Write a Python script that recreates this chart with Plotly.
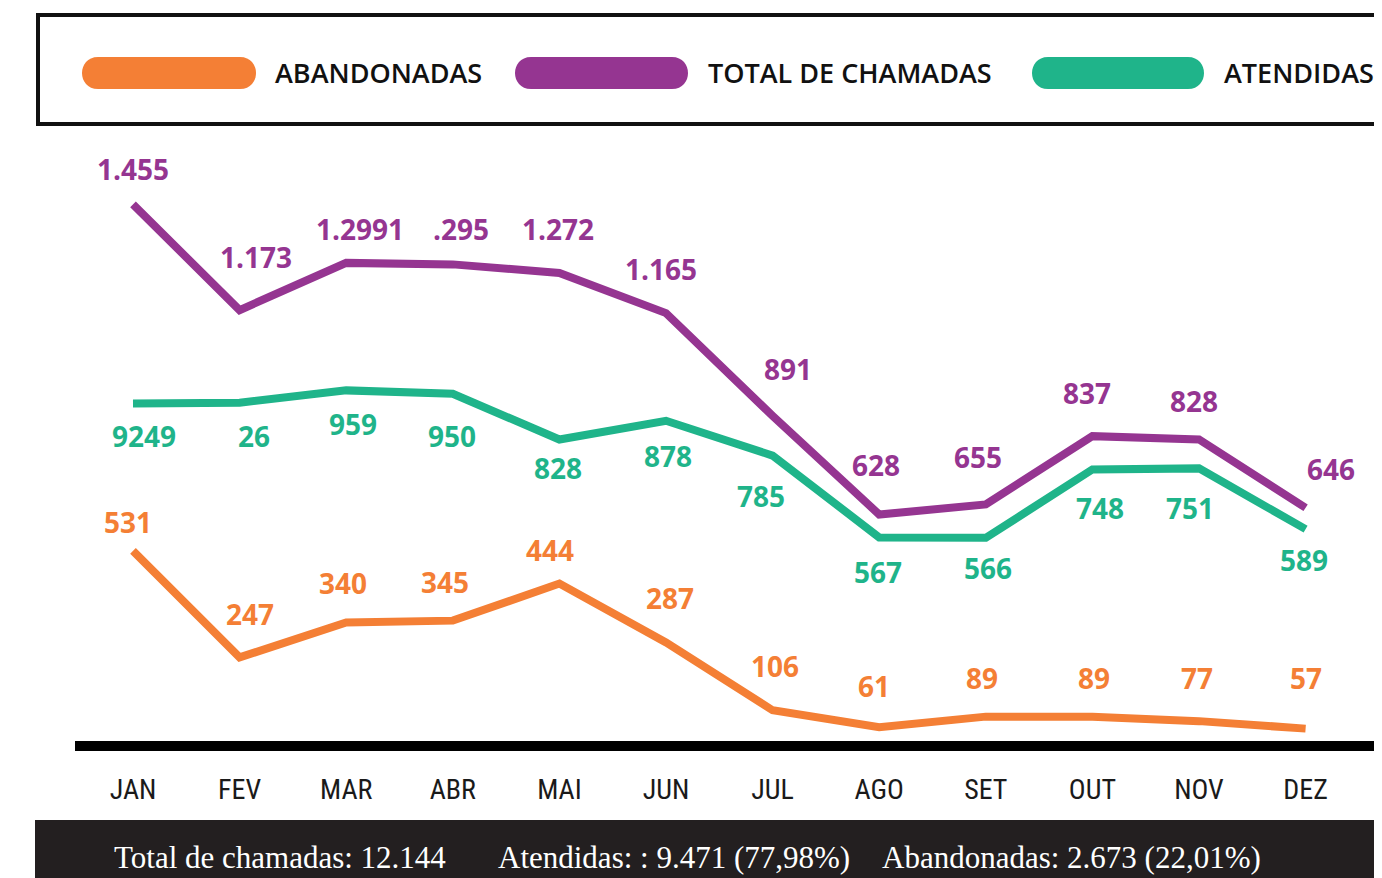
import plotly.graph_objects as go

# page body has an 8px default margin: coordinates below are window pixels
OFF = 8
W, H = 1382, 878 - OFF

# ---------------- data ----------------
months = ["JAN", "FEV", "MAR", "ABR", "MAI", "JUN", "JUL", "AGO", "SET", "OUT", "NOV", "DEZ"]
total = [1455, 1173, 1299, 1295, 1272, 1165, 891, 628, 655, 837, 828, 646]
atendidas = [924, 926, 959, 950, 828, 878, 785, 567, 566, 748, 751, 589]
abandonadas = [531, 247, 340, 345, 444, 287, 106, 61, 89, 89, 77, 57]

# value labels exactly as printed in the original
total_labels = ["1.455", "1.173", "1.2991", ".295", "1.272", "1.165", "891", "628", "655", "837", "828", "646"]
atend_labels = ["9249", "26", "959", "950", "828", "878", "785", "567", "566", "748", "751", "589"]
aband_labels = [str(v) for v in abandonadas]

summary_texts = ["Total de chamadas: 12.144", "Atendidas: : 9.471 (77,98%)", "Abandonadas: 2.673 (22,01%)"]
legend_names = ["ABANDONADAS", "TOTAL DE CHAMADAS", "ATENDIDAS"]

# ---------------- style ----------------
ORANGE = "#F47F35"
PURPLE = "#953591"
GREEN = "#1FB48A"
DARK = "#231F20"

# label offsets in pixels (dx right, dy up)
total_dx = [0, 16, 14, 8, -1, -5, 15, -3, -8, -5, -5, 25]
total_dy = [35, 53, 34, 35, 44, 44, 47, 50, 47, 43, 39, 39]
atend_dx = [11, 14, 7, -1, -1, 2, -12, -1, 2, 8, -9, -2]
atend_dy = [-32, -33, -34, -42, -28, -35, -40, -35, -30, -38, -40, -31]
aband_dx = [-5, 10, -3, -8, -9, 4, 2, -5, -4, 2, -2, 0]
aband_dy = [29, 43, 40, 39, 34, 44, 44, 41, 39, 39, 43, 51]

LABEL_FONT = "Open Sans, DejaVu Sans, sans-serif"
NARROW_FONT = "Liberation Sans Narrow, Arial Narrow, Roboto Condensed, Roboto, sans-serif"
SERIF_FONT = "Liberation Serif, DejaVu Serif, serif"


def px(x):
    return (x - OFF) / W


def py(y):
    return 1 - (y - OFF) / H


xs = list(range(len(months)))

# x axis: month i sits at window pixel 133 + 106.6*i
X_LEFT, X_RIGHT = 75, OFF + W
x_range = [(X_LEFT - 133) / 106.6, (X_RIGHT - 133) / 106.6]

fig = go.Figure()
for vals, color in [(abandonadas, ORANGE), (atendidas, GREEN), (total, PURPLE)]:
    fig.add_trace(go.Scatter(
        x=xs, y=vals, mode="lines",
        line=dict(color=color, width=8),
        showlegend=False, hoverinfo="skip", cliponaxis=False,
    ))

annotations = []
for vals, labels, dxs, dys, color in [
    (total, total_labels, total_dx, total_dy, PURPLE),
    (atendidas, atend_labels, atend_dx, atend_dy, GREEN),
    (abandonadas, aband_labels, aband_dx, aband_dy, ORANGE),
]:
    for i, (v, t) in enumerate(zip(vals, labels)):
        annotations.append(dict(
            x=xs[i], y=v, xref="x", yref="y", text=t, showarrow=False,
            xshift=dxs[i], yshift=dys[i],
            font=dict(family=LABEL_FONT, size=28, color=color, weight=700),
            xanchor="center", yanchor="middle",
        ))

shapes = []
# legend frame
shapes.append(dict(type="rect", xref="paper", yref="paper",
                   x0=px(38), x1=px(1420), y0=py(15), y1=py(124),
                   line=dict(color="#111111", width=4), fillcolor="rgba(0,0,0,0)", layer="above"))


def pill(x0, x1, y0, y1, color):
    r = (y1 - y0) / 2
    k = 1.333 * r
    path = (
        f"M{px(x0 + r)},{py(y0)} L{px(x1 - r)},{py(y0)} "
        f"C{px(x1 - r + k)},{py(y0)} {px(x1 - r + k)},{py(y1)} {px(x1 - r)},{py(y1)} "
        f"L{px(x0 + r)},{py(y1)} "
        f"C{px(x0 + r - k)},{py(y1)} {px(x0 + r - k)},{py(y0)} {px(x0 + r)},{py(y0)} Z"
    )
    return dict(type="path", xref="paper", yref="paper", path=path,
                fillcolor=color, line=dict(width=0), layer="above")


pill_pos = [(82, 256), (515, 688), (1032, 1204)]
pill_colors = [ORANGE, PURPLE, GREEN]
text_x = [273, 706, 1222]
for (a, b), c, tx, name in zip(pill_pos, pill_colors, text_x, legend_names):
    shapes.append(pill(a, b, 57, 89, c))
    annotations.append(dict(
        x=px(tx), y=py(72), xref="paper", yref="paper", text=name, showarrow=False,
        xanchor="left", yanchor="middle",
        font=dict(family=LABEL_FONT, size=27, color="#111111", weight=600),
    ))

# bottom summary band
shapes.append(dict(type="rect", xref="paper", yref="paper",
                   x0=px(35), x1=px(1420), y0=py(820), y1=py(900),
                   fillcolor=DARK, line=dict(width=0), layer="above"))
for t, sx in zip(summary_texts, [112, 496, 880]):
    annotations.append(dict(
        x=px(sx), y=py(857), xref="paper", yref="paper", text=t, showarrow=False,
        xanchor="left", yanchor="middle",
        font=dict(family=SERIF_FONT, size=31, color="white"),
    ))

fig.update_layout(
    width=W, height=H,
    margin=dict(l=0, r=0, t=0, b=0),
    paper_bgcolor="white", plot_bgcolor="white",
    showlegend=False,
    shapes=shapes, annotations=annotations,
    xaxis=dict(
        domain=[px(X_LEFT), 1], range=x_range,
        tickmode="array", tickvals=xs, ticktext=months,
        showline=True, linewidth=10, linecolor="black",
        showgrid=False, zeroline=False, ticks="",
        tickfont=dict(family=NARROW_FONT, size=28, color="#1a1a1a"),
        ticklabelstandoff=14, automargin=False, fixedrange=True,
    ),
    yaxis=dict(
        domain=[py(741), 1], range=[24, (750 - OFF) / 0.375],
        visible=False, showgrid=False, zeroline=False, automargin=False, fixedrange=True,
    ),
)

fig.write_html("out.html")
